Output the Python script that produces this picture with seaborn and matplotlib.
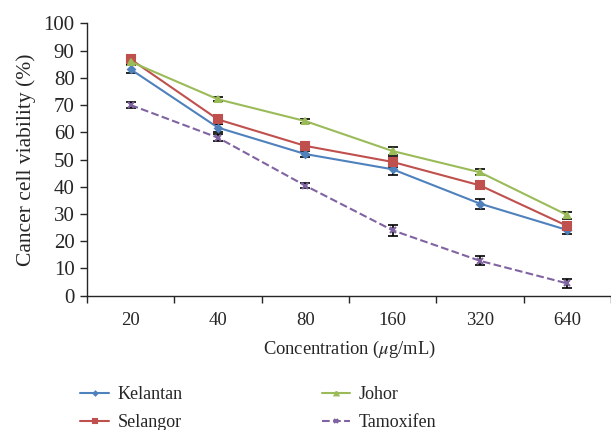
import numpy as np
import pandas as pd
import matplotlib
matplotlib.use("Agg")
import matplotlib.pyplot as plt
import seaborn as sns

# Data
concentrations = ["20", "40", "80", "160", "320", "640"]
kelantan = [83.1, 61.7, 52.0, 46.4, 33.8, 24.1]
selangor = [86.8, 64.7, 55.0, 49.1, 40.5, 25.6]
johor = [85.9, 72.1, 64.1, 53.1, 45.3, 29.6]
tamoxifen = [70.0, 58.0, 40.4, 24.0, 12.8, 4.5]
kelantan_err = [1.5, 1.5, 1.2, 2.2, 1.8, 1.4]
selangor_err = [1.2, 1.6, 1.3, 1.8, 1.2, 1.4]
johor_err = [1.0, 0.8, 0.7, 1.6, 1.1, 1.3]
tamoxifen_err = [1.2, 1.2, 1.0, 2.0, 1.6, 1.5]

series = {
    "Kelantan": (kelantan, kelantan_err),
    "Selangor": (selangor, selangor_err),
    "Johor": (johor, johor_err),
    "Tamoxifen": (tamoxifen, tamoxifen_err),
}
colors = {"Kelantan": "#4F81BD", "Selangor": "#C0504D",
          "Johor": "#9BBB59", "Tamoxifen": "#8064A2"}
markers = {"Kelantan": "D", "Selangor": "s", "Johor": "^", "Tamoxifen": "x"}
msizes = {"Kelantan": 3.5, "Selangor": 5.5, "Johor": 5, "Tamoxifen": 4.5}

rows = []
for name, (vals, errs) in series.items():
    for i, (v, e) in enumerate(zip(vals, errs)):
        rows.append({"pos": i, "viability": v, "err": e, "Sample": name})
df = pd.DataFrame(rows)

sns.set_style("ticks")
plt.rcParams["font.family"] = ["Liberation Serif", "DejaVu Serif"]
plt.rcParams["mathtext.fontset"] = "stix"

fig = plt.figure(figsize=(6.11, 4.30), dpi=100)
ax = fig.add_axes([0.1424, 0.3123, 0.8576, 0.6335])

for name in series:
    d = df[df["Sample"] == name]
    # error bars first, lines/markers on top
    ax.errorbar(d["pos"], d["viability"], yerr=d["err"], fmt="none",
                ecolor="black", elinewidth=1.2, capsize=3.5, capthick=1.2,
                zorder=2)
    sns.lineplot(data=d, x="pos", y="viability", ax=ax, color=colors[name],
                 marker=markers[name], markersize=msizes[name],
                 markeredgecolor=colors[name], markeredgewidth=1.5,
                 linewidth=1.5, label=name, zorder=3,
                 linestyle="--" if name == "Tamoxifen" else "-",
                 dashes=(5, 3) if name == "Tamoxifen" else (None, None))

ax.set_xlim(-0.5, 5.5)
ax.set_ylim(0, 100)
ax.set_yticks(np.arange(0, 101, 10))
ax.set_xticks(range(len(concentrations)))
ax.set_xticklabels(concentrations)
ax.set_xticks(np.arange(-0.5, 5.6, 1), minor=True)
ax.tick_params(axis="x", which="major", length=0, pad=12, labelsize=13.5)
ax.tick_params(axis="x", which="minor", length=5, width=1, direction="out")
ax.tick_params(axis="y", length=5, width=1, direction="out", labelsize=15, pad=4)
for s in ["top", "right"]:
    ax.spines[s].set_visible(False)
ax.spines["left"].set_linewidth(1)
ax.spines["bottom"].set_linewidth(1)

ax.set_xlabel(r"Concentration ($\mu$g/mL)", fontsize=13.3, labelpad=7)
ax.set_ylabel("Cancer cell viability (%)", fontsize=15.5, labelpad=5)

handles, labels = ax.get_legend_handles_labels()
ax.get_legend().remove()
fig.legend(handles, labels, ncol=2, loc="lower left",
           bbox_to_anchor=(0.105, -0.04), frameon=False, fontsize=13,
           handlelength=1.6, handletextpad=0.45, columnspacing=7.7,
           labelspacing=0.6, markerscale=0.55)

fig.savefig("out.png", dpi=100)
